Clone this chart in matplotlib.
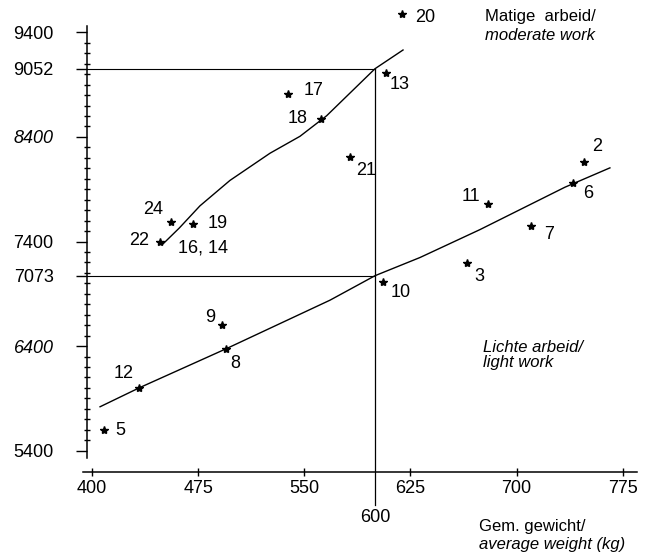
import matplotlib
matplotlib.use('Agg')
import matplotlib.pyplot as plt
from matplotlib.ticker import FixedLocator

plt.rcParams['font.family'] = ['Liberation Sans', 'DejaVu Sans']
plt.rcParams['font.size'] = 12

# --- data ---
point_ids = ['20', '13', '17', '18', '21', '24', '19', '22',
             '2', '6', '11', '7', '3', '10', '9', '8', '12', '5']
point_x = [618.8, 607.7, 538.7, 561.8, 582.3, 455.6, 471.2, 448.0,
           747.9, 740.1, 680.0, 710.0, 664.8, 605.9, 491.9, 494.9, 433.4, 408.7]
point_y = [9578, 9010, 8814, 8569, 8205, 7585, 7572, 7400,
           8162, 7958, 7763, 7546, 7196, 7011, 6599, 6372, 5996, 5594]

# moderate work curve
mod_x = [450.2, 461.7, 476.3, 497.5, 525.8, 547.0, 565.8, 600.0, 619.8]
mod_y = [7377, 7529, 7741, 7984, 8244, 8406, 8602, 9052, 9231]

# light work curve
light_x = [405.7, 433.4, 495.2, 568.2, 600.0, 631.8, 674.2, 734.2, 766.0]
light_y = [5820, 6001, 6377, 6839, 7073, 7247, 7514, 7919, 8104]

x_ticks = [400, 475, 550, 625, 700, 775]
y_ticks = [5400, 6400, 7073, 7400, 8400, 9052, 9400]
y_italic = [6400, 8400]
ref_x = 600
ref_y_mod = 9052
ref_y_light = 7073

# label offsets (pixels) from each star
label_off = {'20': (24, -4), '13': (14, -11), '17': (25, 3), '18': (-23, 1),
             '21': (16, -13), '24': (-18, 13), '19': (25, 0), '22': (-21, 1),
             '2': (13, 15), '6': (15, -10), '11': (-17, 7), '7': (18, -8),
             '3': (13, -14), '10': (17, -10), '9': (-12, 8), '8': (9, -14),
             '12': (-16, 15), '5': (16, 0)}

NUM_FS = 13

W, H, DPI = 646, 558, 100
fig = plt.figure(figsize=(W / DPI, H / DPI), dpi=DPI)
ax = fig.add_axes([0, 0, 1, 1])
ax.set_xlim(335.0, 791.5)
ax.set_ylim(4374, 9709)
ax.patch.set_alpha(0)

# axes drawn as floating spines
for s in ('top', 'right'):
    ax.spines[s].set_visible(False)
ax.spines['left'].set_position(('data', 396.5))
ax.spines['left'].set_bounds(5331, 9460)
ax.spines['bottom'].set_position(('data', 5196))
ax.spines['bottom'].set_bounds(394, 785)
for s in ('left', 'bottom'):
    ax.spines[s].set_linewidth(1.1)

ax.set_xticks(x_ticks)
ax.set_yticks(y_ticks)
ax.yaxis.set_minor_locator(FixedLocator(list(range(5400, 9401, 100))))
ax.tick_params(axis='x', direction='inout', length=6, width=1.0, pad=3, labelsize=NUM_FS)
ax.tick_params(axis='y', which='major', direction='out', length=8, width=1.0, pad=16, labelsize=NUM_FS)
ax.tick_params(axis='y', which='minor', direction='inout', length=5, width=1.0)
for lab, v in zip(ax.get_yticklabels(), y_ticks):
    if v in y_italic:
        lab.set_style('italic')

# reference lines
ax.plot([396.5, ref_x], [ref_y_mod, ref_y_mod], color='black', lw=0.8)
ax.plot([396.5, ref_x], [ref_y_light, ref_y_light], color='black', lw=0.8)
ax.plot([ref_x, ref_x], [4881, ref_y_mod], color='black', lw=0.9)

# curves
ax.plot(mod_x, mod_y, color='black', lw=1.0)
ax.plot(light_x, light_y, color='black', lw=1.0)

# points with labels
ax.plot(point_x, point_y, ls='none', marker='*', ms=6, color='black')
for pid, px, py in zip(point_ids, point_x, point_y):
    dx, dy = label_off[pid]
    ax.annotate(pid, (px, py), xytext=(dx, dy), textcoords='offset pixels',
                ha='center', va='center', fontsize=NUM_FS)
ax.annotate('16, 14', (471.2, 7572), xytext=(10, -24), textcoords='offset pixels',
            ha='center', va='center', fontsize=NUM_FS)

# captions
def ftext(x, y, s, fs=12, **kw):
    fig.text(x / W, 1 - y / H, s, va='center', fontsize=fs, **kw)

ftext(485, 16, 'Matige  arbeid/')
ftext(485, 35, 'moderate work', style='italic')
ftext(483, 348, 'Lichte arbeid/', style='italic')
ftext(483, 363, 'light work', style='italic')
ftext(375, 517, '600', fs=NUM_FS, ha='center')
ftext(479, 527, 'Gem. gewicht/')
ftext(479, 545, 'average weight (kg)', style='italic')

fig.savefig('out.png', dpi=DPI, facecolor='white')
